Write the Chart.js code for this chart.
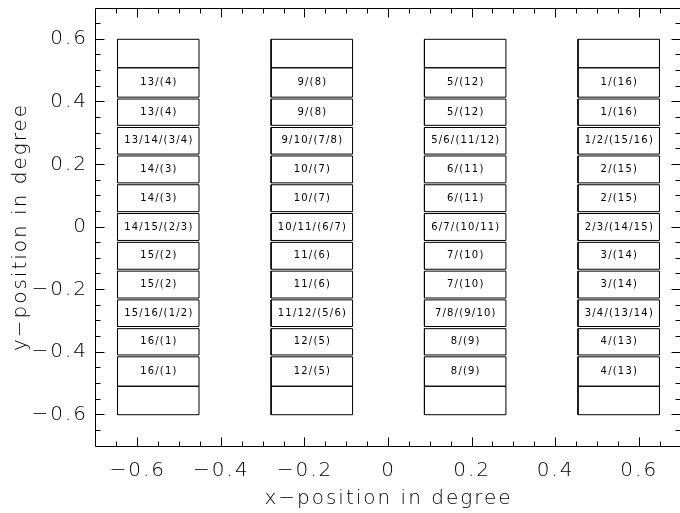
<!DOCTYPE html>
<html>
<head>
<meta charset="utf-8">
<script src="https://cdn.jsdelivr.net/npm/chart.js@4/dist/chart.umd.min.js"></script>
<style>
  html, body { margin: 0; padding: 0; background: #fff; overflow: hidden; width: 680px; height: 513px; }
  #wrap { width: 690px; height: 513px; }
  canvas { display: block; }
</style>
</head>
<body>
<div id="wrap"><canvas id="chart" width="690" height="513"></canvas></div>
<script>
// Strip columns: centre x (degree) and common width
const columnCenters = [-0.551, -0.1835, 0.1835, 0.551];
const columnWidth = 0.195;

// Vertical extent of every strip in a column (degree), top to bottom
const bandTops    = [0.600, 0.509, 0.409, 0.318, 0.227, 0.135, 0.043, -0.049, -0.141, -0.233, -0.325, -0.415, -0.509];
const bandBottoms = [0.509, 0.415, 0.325, 0.233, 0.141, 0.049, -0.043, -0.135, -0.227, -0.318, -0.409, -0.509, -0.600];

// Strip labels, one list per column
const column1Labels = ["", "13/(4)", "13/(4)", "13/14/(3/4)", "14/(3)", "14/(3)", "14/15/(2/3)", "15/(2)", "15/(2)", "15/16/(1/2)", "16/(1)", "16/(1)", ""];
const column2Labels = ["", "9/(8)", "9/(8)", "9/10/(7/8)", "10/(7)", "10/(7)", "10/11/(6/7)", "11/(6)", "11/(6)", "11/12/(5/6)", "12/(5)", "12/(5)", ""];
const column3Labels = ["", "5/(12)", "5/(12)", "5/6/(11/12)", "6/(11)", "6/(11)", "6/7/(10/11)", "7/(10)", "7/(10)", "7/8/(9/10)", "8/(9)", "8/(9)", ""];
const column4Labels = ["", "1/(16)", "1/(16)", "1/2/(15/16)", "2/(15)", "2/(15)", "2/3/(14/15)", "3/(14)", "3/(14)", "3/4/(13/14)", "4/(13)", "4/(13)", ""];

// Axes
const axisMin = -0.7, axisMax = 0.7;
const xTickValues = [-0.6, -0.4, -0.2, 0, 0.2, 0.4, 0.6];
const xTickLabels = ["\u22120.6", "\u22120.4", "\u22120.2", "0", "0.2", "0.4", "0.6"];
const yTickValues = [-0.6, -0.4, -0.2, 0, 0.2, 0.4, 0.6];
const yTickLabels = ["\u22120.6", "\u22120.4", "\u22120.2", "0", "0.2", "0.4", "0.6"];
const minorTickStep = 0.05;

const columnLabels = [column1Labels, column2Labels, column3Labels, column4Labels];
const ink = '#000';
const axisFont = { family: "'DejaVu Sans', sans-serif", size: 20, weight: '200' };

// One closed outline per strip
const datasets = [];
columnCenters.forEach((c, ci) => {
  const x0 = c - columnWidth / 2, x1 = c + columnWidth / 2;
  bandTops.forEach((top, bi) => {
    const bottom = bandBottoms[bi];
    datasets.push({
      label: 'strip ' + ci + '-' + bi,
      data: [
        { x: x0, y: bottom }, { x: x1, y: bottom },
        { x: x1, y: top }, { x: x0, y: top }, { x: x0, y: bottom }
      ],
      showLine: true,
      borderColor: ink,
      borderWidth: 1,
      pointRadius: 0,
      tension: 0,
      fill: false
    });
  });
});

function minorValues() {
  const out = [];
  const n = Math.round((axisMax - axisMin) / minorTickStep);
  for (let i = 1; i < n; i++) {
    const v = Math.round((axisMin + i * minorTickStep) * 1000) / 1000;
    if (!xTickValues.some(m => Math.abs(m - v) < 1e-6)) out.push(v);
  }
  return out;
}

// Letter spacing for the axis texts drawn by the library
const spacing = {
  id: 'spacing',
  beforeDraw(chart) { chart.ctx.letterSpacing = '2px'; }
};

// Strip captions
const stripText = {
  id: 'stripText',
  afterDatasetsDraw(chart) {
    const { ctx, scales: { x, y } } = chart;
    ctx.save();
    ctx.letterSpacing = '1.2px';
    ctx.fillStyle = ink;
    ctx.font = "10px 'DejaVu Sans', sans-serif";
    ctx.textAlign = 'center';
    ctx.textBaseline = 'middle';
    columnCenters.forEach((c, ci) => {
      const px = x.getPixelForValue(c) + 0.6;
      columnLabels[ci].forEach((txt, bi) => {
        if (!txt) return;
        const py = y.getPixelForValue((bandTops[bi] + bandBottoms[bi]) / 2);
        ctx.fillText(txt, px, py);
      });
    });
    ctx.restore();
  }
};

// Box frame with inward ticks on all four sides
const frameTicks = {
  id: 'frameTicks',
  afterDraw(chart) {
    const { ctx, chartArea: a, scales: { x, y } } = chart;
    const majorLen = 9, minorLen = 5;
    const L = a.left - 0.5, R = a.right - 0.5, T = a.top + 0.5, B = a.bottom + 0.5;
    ctx.save();
    ctx.letterSpacing = '0px';
    ctx.strokeStyle = ink;
    ctx.lineWidth = 1;
    ctx.beginPath();
    ctx.rect(L, T, R - L, B - T);
    const minors = minorValues();
    const xTick = (v, len) => {
      const px = Math.floor(x.getPixelForValue(v)) + 0.5;
      ctx.moveTo(px, B); ctx.lineTo(px, B - len);
      ctx.moveTo(px, T); ctx.lineTo(px, T + len);
    };
    const yTick = (v, len) => {
      const py = Math.floor(y.getPixelForValue(v)) + 0.5;
      ctx.moveTo(L, py); ctx.lineTo(L + len, py);
      ctx.moveTo(R, py); ctx.lineTo(R - len, py);
    };
    xTickValues.forEach(v => xTick(v, majorLen));
    yTickValues.forEach(v => yTick(v, majorLen));
    minors.forEach(v => { xTick(v, minorLen); yTick(v, minorLen); });
    ctx.stroke();
    ctx.restore();
  }
};

new Chart(document.getElementById('chart'), {
  type: 'scatter',
  data: { datasets },
  options: {
    responsive: false,
    animation: false,
    devicePixelRatio: 1,
    events: [],
    layout: { padding: { top: 8, right: 9, left: 0, bottom: 0 } },
    plugins: { legend: { display: false }, tooltip: { enabled: false } },
    scales: {
      x: {
        type: 'linear',
        position: 'bottom',
        min: axisMin,
        max: axisMax,
        afterBuildTicks: s => { s.ticks = xTickValues.map(v => ({ value: v })); },
        afterFit: s => { s.height = 67; s.paddingLeft = 0; s.paddingRight = 0; },
        grid: { display: false, drawTicks: false },
        border: { display: false },
        ticks: {
          color: ink,
          font: axisFont,
          padding: 13,
          maxRotation: 0,
          autoSkip: false,
          callback: (v, i) => xTickLabels[i]
        },
        title: {
          display: true,
          text: 'x\u2212position in degree',
          color: ink,
          font: axisFont,
          padding: { top: 0, bottom: 2 }
        }
      },
      y: {
        type: 'linear',
        position: 'left',
        min: axisMin,
        max: axisMax,
        afterBuildTicks: s => { s.ticks = yTickValues.map(v => ({ value: v })); },
        afterFit: s => { s.width = 96; s.paddingTop = 0; s.paddingBottom = 0; },
        grid: { display: false, drawTicks: false },
        border: { display: false },
        ticks: {
          color: ink,
          font: axisFont,
          padding: 8,
          autoSkip: false,
          callback: (v, i) => yTickLabels[i]
        },
        title: {
          display: true,
          text: 'y\u2212position in degree',
          color: ink,
          font: axisFont,
          padding: { top: 9, bottom: 0 }
        }
      }
    }
  },
  plugins: [spacing, stripText, frameTicks]
});
</script>
</body>
</html>
